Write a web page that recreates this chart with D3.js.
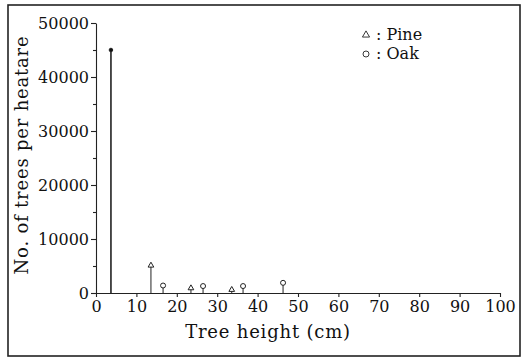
<!DOCTYPE html>
<html>
<head>
<meta charset="utf-8">
<script src="https://cdn.jsdelivr.net/npm/d3@7"></script>
<style>
  body { margin: 0; background: #fff; }
  svg text { font-family: "DejaVu Serif", serif; fill: #111; }
</style>
</head>
<body>
<div id="chart"></div>
<script>
// values
var pineHeight = [3.7, 13.6, 23.5, 33.6];
var pineCount = [45000, 5100, 900, 600];
var oakHeight = [16.6, 26.5, 36.4, 46.3];
var oakCount = [1200, 1100, 1100, 1700];
var xTicks = [0, 10, 20, 30, 40, 50, 60, 70, 80, 90, 100];
var yTicks = [0, 10000, 20000, 30000, 40000, 50000];
var yMinor = [5000, 15000, 25000, 35000, 45000];

var W = 524, H = 359;
var svg = d3.select('#chart').append('svg').attr('width', W).attr('height', H);

// outer frame
svg.append('rect').attr('x', 8).attr('y', 5).attr('width', 512).attr('height', 351)
    .attr('fill', 'none').attr('stroke', '#222').attr('stroke-width', 1.6);

var x = d3.scaleLinear().domain([0, 100]).range([96, 500]);
var y = d3.scaleLinear().domain([0, 50000]).range([293, 23]);

var yAxis = svg.append('g').attr('transform', 'translate(96,0)')
    .call(d3.axisLeft(y).tickValues(yTicks).tickSize(5).tickSizeOuter(0).tickPadding(2).tickFormat(d3.format('d')));
yAxis.selectAll('text').style('font-size', '16px');
svg.append('g').attr('transform', 'translate(96,0)')
    .call(d3.axisLeft(y).tickValues(yMinor).tickSize(3).tickFormat(''))
    .select('.domain').remove();

var xAxis = svg.append('g').attr('transform', 'translate(0,293)')
    .call(d3.axisBottom(x).tickValues(xTicks).tickSize(4).tickSizeOuter(0).tickPadding(4));
xAxis.selectAll('text').style('font-size', '16px');
svg.selectAll('.domain, .tick line').attr('stroke', '#222').attr('stroke-width', 1.1);
svg.selectAll('.tick text').attr('fill', '#111').style('font-family', '"DejaVu Serif", serif');

// labels
svg.append('text').attr('transform', 'translate(28,155) rotate(-90)')
    .attr('text-anchor', 'middle').style('font-size', '18px').style('letter-spacing', '0.8px')
    .text('No. of trees per heatare');
svg.append('text').attr('x', 268).attr('y', 338)
    .attr('text-anchor', 'middle').style('font-size', '18px').style('letter-spacing', '0.8px')
    .text('Tree height (cm)');

// stems
var pine = pineHeight.map(function (h, i) { return {h: h, c: pineCount[i]}; });
var oak = oakHeight.map(function (h, i) { return {h: h, c: oakCount[i]}; });

svg.selectAll('line.pstem').data(pine).enter().append('line').attr('class', 'pstem')
    .attr('x1', function (d) { return x(d.h); }).attr('x2', function (d) { return x(d.h); })
    .attr('y1', function (d) { return y(d.c); }).attr('y2', y(0))
    .attr('stroke', '#222').attr('stroke-width', function (d, i) { return i == 0 ? 1.6 : 1; });
svg.selectAll('line.ostem').data(oak).enter().append('line').attr('class', 'ostem')
    .attr('x1', function (d) { return x(d.h); }).attr('x2', function (d) { return x(d.h); })
    .attr('y1', function (d) { return y(d.c); }).attr('y2', y(0))
    .attr('stroke', '#222').attr('stroke-width', 1);

// markers
var tri = d3.symbol().type(d3.symbolTriangle).size(14);
svg.selectAll('path.pine').data(pine).enter().append('path').attr('class', 'pine')
    .attr('d', function (d, i) { return i == 0 ? d3.symbol().type(d3.symbolCircle).size(10)() : tri(); })
    .attr('transform', function (d) { return 'translate(' + x(d.h) + ',' + y(d.c) + ')'; })
    .attr('fill', function (d, i) { return i == 0 ? '#111' : '#fff'; })
    .attr('stroke', '#222').attr('stroke-width', 1);
svg.selectAll('circle.oak').data(oak).enter().append('circle').attr('class', 'oak')
    .attr('cx', function (d) { return x(d.h); }).attr('cy', function (d) { return y(d.c) - 1; })
    .attr('r', 2.5).attr('fill', '#fff').attr('stroke', '#222').attr('stroke-width', 1);

// legend
var lg = svg.append('g');
lg.append('path').attr('d', d3.symbol().type(d3.symbolTriangle).size(22)())
    .attr('transform', 'translate(366,35)').attr('fill', 'none').attr('stroke', '#222').attr('stroke-width', 0.9);
lg.append('circle').attr('cx', 366).attr('cy', 54).attr('r', 3)
    .attr('fill', 'none').attr('stroke', '#222').attr('stroke-width', 0.9);
lg.append('text').attr('x', 376).attr('y', 40).style('font-size', '16px').text(': Pine');
lg.append('text').attr('x', 376).attr('y', 59).style('font-size', '16px').text(': Oak');
</script>
</body>
</html>
